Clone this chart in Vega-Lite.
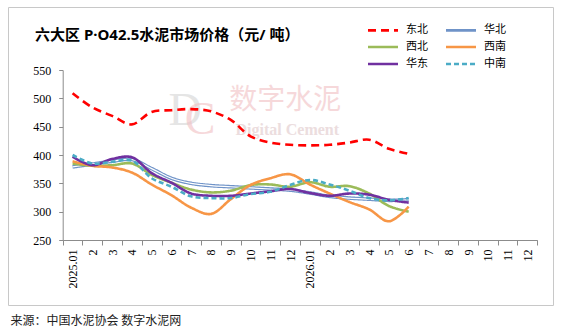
{
  "$schema": "https://vega.github.io/schema/vega-lite/v6.json",
  "width": 545,
  "height": 298,
  "autosize": {"type": "none"},
  "padding": {"left": 8, "top": 7, "right": 9, "bottom": 31},
  "background": "white",
  "config": {
    "view": {"stroke": "#c8c8c8", "strokeWidth": 1},
    "font": "Noto Sans CJK SC"
  },
  "title": {
    "text": "六大区 P·O42.5水泥市场价格（元/ 吨）",
    "anchor": "start",
    "frame": "group",
    "orient": "top",
    "offset": 0,
    "dx": 27,
    "dy": 43,
    "baseline": "middle",
    "font": "Noto Sans, Noto Sans CJK SC",
    "fontSize": 15,
    "fontWeight": "bold",
    "color": "#000000"
  },
  "datasets": {
    "prices": [
      {"month": "2025.01", "region": "华北", "price": 379},
      {"month": "2025.02", "region": "华北", "price": 384},
      {"month": "2025.03", "region": "华北", "price": 389},
      {"month": "2025.04", "region": "华北", "price": 392},
      {"month": "2025.05", "region": "华北", "price": 376},
      {"month": "2025.06", "region": "华北", "price": 359},
      {"month": "2025.07", "region": "华北", "price": 350},
      {"month": "2025.08", "region": "华北", "price": 346},
      {"month": "2025.09", "region": "华北", "price": 344},
      {"month": "2025.10", "region": "华北", "price": 342},
      {"month": "2025.11", "region": "华北", "price": 340},
      {"month": "2025.12", "region": "华北", "price": 338},
      {"month": "2026.01", "region": "华北", "price": 333},
      {"month": "2026.02", "region": "华北", "price": 327},
      {"month": "2026.03", "region": "华北", "price": 324},
      {"month": "2026.04", "region": "华北", "price": 322},
      {"month": "2026.05", "region": "华北", "price": 320},
      {"month": "2026.06", "region": "华北", "price": 321},

      {"month": "2025.01", "region": "西北", "price": 385},
      {"month": "2025.02", "region": "西北", "price": 381},
      {"month": "2025.03", "region": "西北", "price": 382},
      {"month": "2025.04", "region": "西北", "price": 385},
      {"month": "2025.05", "region": "西北", "price": 365},
      {"month": "2025.06", "region": "西北", "price": 351},
      {"month": "2025.07", "region": "西北", "price": 339},
      {"month": "2025.08", "region": "西北", "price": 334},
      {"month": "2025.09", "region": "西北", "price": 337},
      {"month": "2025.10", "region": "西北", "price": 347},
      {"month": "2025.11", "region": "西北", "price": 348},
      {"month": "2025.12", "region": "西北", "price": 344},
      {"month": "2026.01", "region": "西北", "price": 352},
      {"month": "2026.02", "region": "西北", "price": 344},
      {"month": "2026.03", "region": "西北", "price": 345},
      {"month": "2026.04", "region": "西北", "price": 332},
      {"month": "2026.05", "region": "西北", "price": 310},
      {"month": "2026.06", "region": "西北", "price": 300},

      {"month": "2025.01", "region": "西南", "price": 389},
      {"month": "2025.02", "region": "西南", "price": 381},
      {"month": "2025.03", "region": "西南", "price": 378},
      {"month": "2025.04", "region": "西南", "price": 369},
      {"month": "2025.05", "region": "西南", "price": 348},
      {"month": "2025.06", "region": "西南", "price": 329},
      {"month": "2025.07", "region": "西南", "price": 307},
      {"month": "2025.08", "region": "西南", "price": 296},
      {"month": "2025.09", "region": "西南", "price": 322},
      {"month": "2025.10", "region": "西南", "price": 347},
      {"month": "2025.11", "region": "西南", "price": 359},
      {"month": "2025.12", "region": "西南", "price": 366},
      {"month": "2026.01", "region": "西南", "price": 348},
      {"month": "2026.02", "region": "西南", "price": 332},
      {"month": "2026.03", "region": "西南", "price": 317},
      {"month": "2026.04", "region": "西南", "price": 304},
      {"month": "2026.05", "region": "西南", "price": 283},
      {"month": "2026.06", "region": "西南", "price": 309},

      {"month": "2025.01", "region": "东北", "price": 509},
      {"month": "2025.02", "region": "东北", "price": 484},
      {"month": "2025.03", "region": "东北", "price": 469},
      {"month": "2025.04", "region": "东北", "price": 454},
      {"month": "2025.05", "region": "东北", "price": 476},
      {"month": "2025.06", "region": "东北", "price": 479},
      {"month": "2025.07", "region": "东北", "price": 481},
      {"month": "2025.08", "region": "东北", "price": 477},
      {"month": "2025.09", "region": "东北", "price": 462},
      {"month": "2025.10", "region": "东北", "price": 433},
      {"month": "2025.11", "region": "东北", "price": 422},
      {"month": "2025.12", "region": "东北", "price": 418},
      {"month": "2026.01", "region": "东北", "price": 417},
      {"month": "2026.02", "region": "东北", "price": 418},
      {"month": "2026.03", "region": "东北", "price": 422},
      {"month": "2026.04", "region": "东北", "price": 427},
      {"month": "2026.05", "region": "东北", "price": 411},
      {"month": "2026.06", "region": "东北", "price": 402},

      {"month": "2025.01", "region": "华东", "price": 397},
      {"month": "2025.02", "region": "华东", "price": 382},
      {"month": "2025.03", "region": "华东", "price": 393},
      {"month": "2025.04", "region": "华东", "price": 396},
      {"month": "2025.05", "region": "华东", "price": 368},
      {"month": "2025.06", "region": "华东", "price": 351},
      {"month": "2025.07", "region": "华东", "price": 332},
      {"month": "2025.08", "region": "华东", "price": 328},
      {"month": "2025.09", "region": "华东", "price": 328},
      {"month": "2025.10", "region": "华东", "price": 332},
      {"month": "2025.11", "region": "华东", "price": 336},
      {"month": "2025.12", "region": "华东", "price": 340},
      {"month": "2026.01", "region": "华东", "price": 333},
      {"month": "2026.02", "region": "华东", "price": 328},
      {"month": "2026.03", "region": "华东", "price": 332},
      {"month": "2026.04", "region": "华东", "price": 330},
      {"month": "2026.05", "region": "华东", "price": 321},
      {"month": "2026.06", "region": "华东", "price": 316},

      {"month": "2025.01", "region": "中南", "price": 400},
      {"month": "2025.02", "region": "中南", "price": 385},
      {"month": "2025.03", "region": "中南", "price": 388},
      {"month": "2025.04", "region": "中南", "price": 390},
      {"month": "2025.05", "region": "中南", "price": 359},
      {"month": "2025.06", "region": "中南", "price": 344},
      {"month": "2025.07", "region": "中南", "price": 327},
      {"month": "2025.08", "region": "中南", "price": 324},
      {"month": "2025.09", "region": "中南", "price": 324},
      {"month": "2025.10", "region": "中南", "price": 331},
      {"month": "2025.11", "region": "中南", "price": 335},
      {"month": "2025.12", "region": "中南", "price": 347},
      {"month": "2026.01", "region": "中南", "price": 356},
      {"month": "2026.02", "region": "中南", "price": 348},
      {"month": "2026.03", "region": "中南", "price": 337},
      {"month": "2026.04", "region": "中南", "price": 324},
      {"month": "2026.05", "region": "中南", "price": 320},
      {"month": "2026.06", "region": "中南", "price": 324}
    ]
  },
  "data": {"name": "prices"},
  "encoding": {
    "x": {
      "field": "month",
      "type": "ordinal",
      "scale": {
        "type": "band",
        "domain": ["2025.01", "2025.02", "2025.03", "2025.04", "2025.05", "2025.06", "2025.07", "2025.08", "2025.09", "2025.10", "2025.11", "2025.12",
                   "2026.01", "2026.02", "2026.03", "2026.04", "2026.05", "2026.06", "2026.07", "2026.08", "2026.09", "2026.10", "2026.11", "2026.12"],
        "range": [54.7, 529.2],
        "paddingInner": 0,
        "paddingOuter": 0
      },
      "axis": {
        "orient": "bottom",
        "offset": -65,
        "tickBand": "extent",
        "labelAngle": -90,
        "labelAlign": "right",
        "labelBaseline": "middle",
        "labelExpr": "length(datum.label) != 7 ? '' : substring(datum.label, 5, 7) == '01' ? datum.label : '' + toNumber(substring(datum.label, 5, 7))",
        "labelFont": "Liberation Serif",
        "labelFontSize": 12,
        "labelColor": "#000000",
        "labelPadding": 4,
        "labelOverlap": false,
        "tickSize": 5,
        "tickColor": "#8c8c8c",
        "domainColor": "#8c8c8c",
        "grid": false,
        "title": "来源：中国水泥协会 数字水泥网",
        "titleX": 2,
        "titleY": 80,
        "titleAlign": "left",
        "titleBaseline": "middle",
        "titleFont": "Noto Sans CJK SC",
        "titleFontSize": 12,
        "titleFontWeight": "normal",
        "titleColor": "#222222"
      }
    },
    "y": {
      "field": "price",
      "type": "quantitative",
      "scale": {"domain": [250, 550], "range": [233, 63], "nice": false, "zero": false},
      "axis": {
        "orient": "left",
        "offset": -54.7,
        "values": [250, 300, 350, 400, 450, 500, 550],
        "labelFont": "Liberation Serif",
        "labelFontSize": 12,
        "labelColor": "#000000",
        "labelPadding": 8,
        "tickSize": 4,
        "tickColor": "#8c8c8c",
        "domainColor": "#8c8c8c",
        "grid": false,
        "title": null
      }
    }
  },
  "layer": [
    {
      "transform": [{"filter": "datum.month === '2025.07' && datum.region === '东北'"}],
      "mark": {"type": "text", "text": "D", "font": "Liberation Serif", "fontSize": 46, "color": "#d4d4d4", "opacity": 0.6, "dx": -6},
      "encoding": {"y": {"datum": 478, "type": "quantitative"}}
    },
    {
      "transform": [{"filter": "datum.month === '2025.07' && datum.region === '东北'"}],
      "mark": {"type": "text", "text": "C", "font": "Liberation Serif", "fontSize": 46, "color": "#f1bfc3", "opacity": 0.6, "dx": 9},
      "encoding": {"y": {"datum": 462, "type": "quantitative"}}
    },
    {
      "transform": [{"filter": "datum.month === '2025.11' && datum.region === '东北'"}],
      "mark": {"type": "text", "text": "数字水泥", "font": "Noto Sans CJK SC", "fontSize": 28, "color": "#f1bfc3", "opacity": 0.6, "dx": 15},
      "encoding": {"y": {"datum": 495, "type": "quantitative"}}
    },
    {
      "transform": [{"filter": "datum.month === '2025.11' && datum.region === '东北'"}],
      "mark": {"type": "text", "text": "Digital Cement", "font": "Liberation Serif", "fontWeight": "bold", "fontSize": 16, "color": "#e4cfd1", "opacity": 0.7, "dx": 17},
      "encoding": {"y": {"datum": 444, "type": "quantitative"}}
    },
    {
      "transform": [{"filter": "datum.region === '华北'"}],
      "mark": {"type": "line", "interpolate": "catmull-rom", "strokeWidth": 3.6},
      "encoding": {
        "color": {"field": "region", "type": "nominal"},
        "strokeDash": {"field": "region", "type": "nominal"},
        "detail": {"field": "region"}
      }
    },
    {
      "transform": [{"filter": "datum.region === '华北'"}],
      "mark": {"type": "line", "interpolate": "catmull-rom", "strokeWidth": 1.2, "color": "#ffffff"},
      "encoding": {"detail": {"field": "region"}}
    },
    {
      "transform": [{"filter": "datum.region !== '华北'"}],
      "mark": {"type": "line", "interpolate": "catmull-rom", "strokeWidth": 2.6},
      "encoding": {
        "color": {
          "field": "region",
          "type": "nominal",
          "scale": {
            "domain": ["东北", "华北", "西北", "西南", "华东", "中南"],
            "range": ["#ff0000", "#6f93c8", "#9bbb59", "#f79646", "#7030a0", "#4bacc6"]
          },
          "legend": {
            "orient": "none",
            "legendX": 366,
            "legendY": 14,
            "direction": "horizontal",
            "columns": 2,
            "title": null,
            "symbolType": "M-2,0H2",
            "symbolSize": 225,
            "symbolStrokeWidth": 2.6,
            "labelFont": "Noto Sans CJK SC",
            "labelFontSize": 11,
            "labelColor": "#000000",
            "labelOffset": 14,
            "columnPadding": 12,
            "rowPadding": 2,
            "padding": 0
          }
        },
        "strokeDash": {
          "field": "region",
          "type": "nominal",
          "scale": {
            "domain": ["东北", "华北", "西北", "西南", "华东", "中南"],
            "range": [[8, 5], [1, 0], [1, 0], [1, 0], [1, 0], [5, 3]]
          }
        },
        "detail": {"field": "region"}
      }
    }
  ]
}
